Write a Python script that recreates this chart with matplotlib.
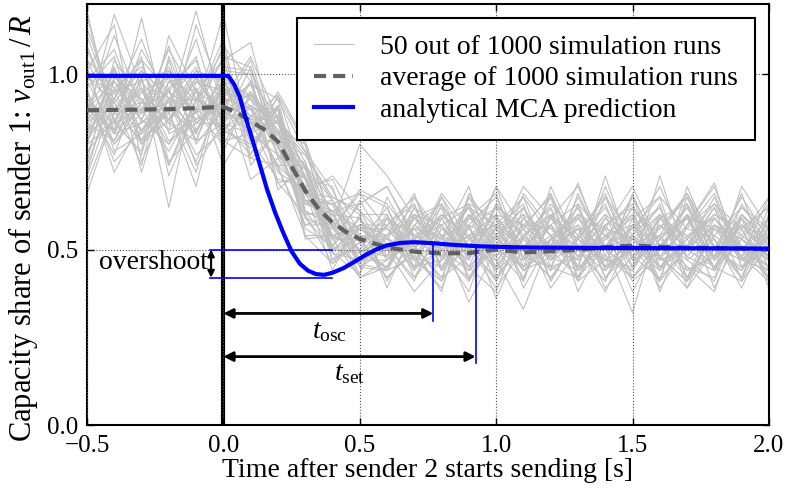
"""
Capacity share of sender 1 after sender 2 starts sending:
simulation runs, their average and the analytical MCA prediction.
"""

import matplotlib
matplotlib.use("Agg")
import matplotlib.pyplot as plt


# =========================================================
# Data
# =========================================================

RUN_TIME = [-0.5, -0.4, -0.3, -0.2, -0.1, 0.0, 0.1, 0.2, 0.3, 0.4, 0.5,
            0.6, 0.7, 0.8, 0.9, 1.0, 1.1, 1.2, 1.3, 1.4, 1.5, 1.6, 1.7,
            1.8, 1.9, 2.0]

# 50 sample runs, one row per run
RUNS = [
    [0.93, 0.83, 1.01, 0.87, 0.95, 0.90, 0.83, 0.77, 0.70, 0.54, 0.50, 0.45, 0.57, 0.50, 0.41, 0.53, 0.62, 0.48, 0.44, 0.54, 0.50, 0.60, 0.42, 0.51, 0.47, 0.56],
    [0.77, 0.98, 0.87, 1.08, 0.84, 0.96, 0.93, 0.84, 0.60, 0.61, 0.46, 0.54, 0.44, 0.63, 0.51, 0.39, 0.50, 0.59, 0.53, 0.45, 0.66, 0.48, 0.41, 0.57, 0.50, 0.45],
    [1.13, 0.92, 0.80, 0.90, 1.01, 0.87, 0.98, 0.69, 0.71, 0.50, 0.56, 0.50, 0.38, 0.47, 0.60, 0.54, 0.44, 0.51, 0.69, 0.48, 0.42, 0.53, 0.59, 0.47, 0.54, 0.65],
    [0.87, 1.17, 0.96, 0.74, 0.93, 1.07, 0.77, 0.91, 0.64, 0.58, 0.43, 0.59, 0.51, 0.42, 0.48, 0.68, 0.56, 0.39, 0.50, 0.60, 0.53, 0.45, 0.50, 0.62, 0.41, 0.51],
    [0.69, 0.89, 1.04, 0.95, 0.81, 0.86, 1.02, 0.81, 0.77, 0.65, 0.61, 0.48, 0.60, 0.54, 0.35, 0.50, 0.45, 0.57, 0.63, 0.44, 0.51, 0.41, 0.68, 0.50, 0.57, 0.48],
    [1.01, 0.80, 0.92, 0.84, 1.14, 0.93, 0.86, 0.74, 0.54, 0.46, 0.52, 0.42, 0.50, 0.66, 0.56, 0.47, 0.33, 0.53, 0.45, 0.71, 0.48, 0.54, 0.45, 0.38, 0.59, 0.50],
    [0.90, 1.02, 0.72, 0.98, 0.89, 0.80, 0.94, 0.87, 0.73, 0.56, 0.66, 0.62, 0.47, 0.41, 0.53, 0.57, 0.50, 0.65, 0.42, 0.51, 0.32, 0.59, 0.54, 0.48, 0.66, 0.44],
    [0.81, 0.93, 1.10, 0.89, 0.68, 0.99, 0.76, 0.83, 0.66, 0.63, 0.49, 0.53, 0.63, 0.45, 0.57, 0.36, 0.54, 0.47, 0.56, 0.50, 0.62, 0.39, 0.51, 0.65, 0.45, 0.54],
    [1.18, 0.86, 0.90, 1.01, 0.92, 1.04, 1.09, 0.79, 0.61, 0.51, 0.59, 0.41, 0.54, 0.59, 0.47, 0.63, 0.53, 0.44, 0.50, 0.57, 0.45, 0.71, 0.47, 0.53, 0.42, 0.60],
    [0.95, 0.75, 0.84, 0.93, 1.02, 0.83, 0.88, 0.94, 0.80, 0.49, 0.47, 0.57, 0.50, 0.38, 0.65, 0.51, 0.60, 0.54, 0.41, 0.47, 0.57, 0.50, 0.63, 0.44, 0.53, 0.48],
    [0.84, 0.99, 0.93, 0.80, 0.90, 1.17, 0.81, 0.70, 0.68, 0.70, 0.54, 0.51, 0.42, 0.56, 0.48, 0.59, 0.41, 0.68, 0.51, 0.38, 0.54, 0.62, 0.48, 0.57, 0.50, 0.42],
    [1.04, 0.87, 0.77, 1.05, 0.86, 0.92, 0.97, 0.80, 0.57, 0.57, 0.42, 0.47, 0.59, 0.51, 0.62, 0.44, 0.57, 0.50, 0.60, 0.54, 0.41, 0.48, 0.56, 0.66, 0.47, 0.53],
    [0.74, 0.95, 0.98, 0.87, 0.96, 0.74, 0.87, 0.88, 0.75, 0.53, 0.63, 0.68, 0.53, 0.48, 0.42, 0.54, 0.65, 0.45, 0.48, 0.59, 0.51, 0.44, 0.60, 0.39, 0.56, 0.62],
    [0.98, 1.07, 0.86, 0.92, 0.75, 0.95, 0.70, 0.76, 0.63, 0.64, 0.53, 0.44, 0.48, 0.60, 0.54, 0.50, 0.47, 0.62, 0.38, 0.53, 0.65, 0.51, 0.42, 0.59, 0.48, 0.41],
    [0.86, 0.81, 0.99, 0.62, 0.98, 0.89, 0.91, 0.86, 0.70, 0.47, 0.57, 0.54, 0.66, 0.44, 0.51, 0.60, 0.39, 0.53, 0.57, 0.45, 0.50, 0.56, 0.65, 0.47, 0.60, 0.51],
    [1.08, 0.90, 0.89, 0.99, 0.83, 1.01, 1.00, 0.67, 0.74, 0.60, 0.45, 0.50, 0.56, 0.53, 0.68, 0.42, 0.51, 0.48, 0.65, 0.50, 0.44, 0.60, 0.53, 0.45, 0.41, 0.57],
    [0.80, 1.01, 0.81, 0.90, 1.10, 0.84, 0.80, 0.90, 0.53, 0.54, 0.50, 0.60, 0.45, 0.50, 0.44, 0.56, 0.63, 0.41, 0.54, 0.66, 0.48, 0.42, 0.50, 0.57, 0.53, 0.47],
    [0.92, 0.84, 1.16, 0.83, 0.87, 0.96, 0.90, 0.72, 0.67, 0.44, 0.60, 0.39, 0.57, 0.63, 0.50, 0.47, 0.54, 0.60, 0.44, 0.51, 0.56, 0.65, 0.41, 0.50, 0.62, 0.54],
    [0.99, 0.92, 0.74, 1.04, 0.80, 0.90, 0.84, 0.93, 0.78, 0.67, 0.52, 0.56, 0.48, 0.39, 0.59, 0.66, 0.45, 0.51, 0.62, 0.42, 0.53, 0.47, 0.57, 0.69, 0.45, 0.50],
    [0.66, 0.89, 0.95, 0.86, 0.99, 0.87, 0.95, 0.80, 0.59, 0.56, 0.67, 0.63, 0.53, 0.57, 0.45, 0.38, 0.59, 0.50, 0.47, 0.56, 0.68, 0.51, 0.44, 0.48, 0.59, 0.39],
    [0.89, 1.11, 0.90, 0.78, 0.92, 1.10, 0.74, 0.84, 0.71, 0.50, 0.49, 0.45, 0.62, 0.47, 0.54, 0.57, 0.50, 0.42, 0.53, 0.63, 0.45, 0.54, 0.66, 0.53, 0.42, 0.59],
    [1.02, 0.78, 0.83, 0.96, 0.74, 0.86, 0.93, 0.77, 0.64, 0.61, 0.56, 0.51, 0.41, 0.59, 0.63, 0.48, 0.56, 0.66, 0.50, 0.41, 0.57, 0.45, 0.53, 0.60, 0.54, 0.48],
    [0.83, 0.96, 1.02, 0.92, 0.84, 0.93, 1.05, 0.87, 0.56, 0.51, 0.46, 0.59, 0.54, 0.50, 0.38, 0.60, 0.48, 0.54, 0.59, 0.47, 0.51, 0.63, 0.39, 0.50, 0.65, 0.53],
    [0.93, 0.86, 0.78, 1.11, 0.95, 0.81, 0.83, 0.95, 0.81, 0.58, 0.54, 0.48, 0.65, 0.54, 0.57, 0.41, 0.62, 0.47, 0.51, 0.60, 0.42, 0.50, 0.59, 0.56, 0.47, 0.44],
    [0.75, 1.04, 0.92, 0.87, 1.01, 0.98, 0.88, 0.74, 0.66, 0.71, 0.61, 0.53, 0.45, 0.65, 0.48, 0.54, 0.42, 0.59, 0.68, 0.50, 0.54, 0.41, 0.51, 0.62, 0.50, 0.57],
    [1.17, 0.83, 0.86, 0.95, 0.89, 0.92, 0.94, 0.83, 0.74, 0.49, 0.43, 0.65, 0.51, 0.42, 0.60, 0.50, 0.53, 0.45, 0.42, 0.57, 0.62, 0.53, 0.47, 0.41, 0.60, 0.51],
    [0.86, 0.93, 1.05, 0.71, 0.90, 0.84, 0.79, 0.91, 0.61, 0.57, 0.80, 0.71, 0.59, 0.53, 0.47, 0.62, 0.57, 0.50, 0.56, 0.39, 0.48, 0.59, 0.63, 0.51, 0.44, 0.54],
    [0.96, 0.72, 0.87, 1.01, 0.81, 1.02, 1.01, 0.79, 0.68, 0.53, 0.53, 0.42, 0.50, 0.60, 0.53, 0.45, 0.66, 0.56, 0.48, 0.53, 0.59, 0.38, 0.57, 0.63, 0.51, 0.47],
    [0.90, 0.98, 0.84, 0.90, 1.18, 0.89, 0.86, 0.86, 0.77, 0.64, 0.49, 0.54, 0.60, 0.48, 0.65, 0.56, 0.44, 0.53, 0.62, 0.45, 0.50, 0.57, 0.48, 0.44, 0.68, 0.56],
    [0.78, 0.87, 0.96, 0.81, 0.86, 0.95, 0.91, 0.73, 0.57, 0.60, 0.59, 0.50, 0.56, 0.44, 0.57, 0.53, 0.60, 0.41, 0.54, 0.65, 0.47, 0.51, 0.60, 0.54, 0.48, 0.65],
    [1.01, 1.14, 0.75, 0.93, 0.96, 0.83, 0.98, 0.88, 0.73, 0.47, 0.52, 0.62, 0.44, 0.54, 0.50, 0.68, 0.47, 0.57, 0.45, 0.51, 0.60, 0.48, 0.39, 0.57, 0.53, 0.45],
    [0.84, 0.92, 1.01, 0.89, 0.72, 0.99, 0.81, 0.81, 0.63, 0.63, 0.47, 0.47, 0.53, 0.62, 0.42, 0.51, 0.57, 0.65, 0.50, 0.44, 0.54, 0.68, 0.50, 0.45, 0.57, 0.50],
    [0.95, 0.80, 0.89, 1.07, 0.93, 0.87, 0.90, 0.90, 0.54, 0.54, 0.57, 0.57, 0.65, 0.50, 0.54, 0.44, 0.51, 0.48, 0.60, 0.56, 0.38, 0.53, 0.62, 0.51, 0.42, 0.60],
    [0.72, 0.99, 0.93, 0.84, 0.89, 1.05, 1.02, 0.76, 0.75, 0.51, 0.64, 0.51, 0.47, 0.57, 0.62, 0.50, 0.41, 0.60, 0.53, 0.48, 0.65, 0.45, 0.54, 0.59, 0.50, 0.44],
    [1.07, 0.89, 0.81, 0.98, 0.99, 0.86, 0.77, 0.94, 0.70, 0.68, 0.45, 0.44, 0.57, 0.53, 0.45, 0.63, 0.54, 0.44, 0.66, 0.50, 0.56, 0.62, 0.44, 0.48, 0.60, 0.53],
    [0.87, 0.95, 1.04, 0.75, 0.84, 0.96, 0.87, 0.69, 0.60, 0.46, 0.56, 0.56, 0.51, 0.41, 0.66, 0.54, 0.62, 0.50, 0.42, 0.59, 0.51, 0.48, 0.57, 0.68, 0.47, 0.50],
    [0.98, 0.84, 0.90, 0.95, 1.05, 0.78, 0.95, 0.84, 0.80, 0.58, 0.50, 0.48, 0.62, 0.56, 0.50, 0.42, 0.53, 0.63, 0.54, 0.47, 0.44, 0.57, 0.51, 0.60, 0.56, 0.42],
    [0.81, 1.02, 0.83, 0.90, 0.83, 1.01, 0.84, 0.91, 0.66, 0.65, 0.60, 0.60, 0.42, 0.51, 0.59, 0.53, 0.48, 0.45, 0.63, 0.54, 0.60, 0.41, 0.65, 0.50, 0.44, 0.62],
    [0.92, 0.77, 0.98, 1.01, 0.90, 0.90, 1.04, 0.80, 0.59, 0.50, 0.53, 0.54, 0.59, 0.63, 0.41, 0.57, 0.65, 0.54, 0.47, 0.68, 0.50, 0.54, 0.45, 0.42, 0.63, 0.51],
    [1.04, 0.96, 0.87, 0.80, 0.95, 1.04, 0.80, 0.87, 0.78, 0.56, 0.47, 0.50, 0.48, 0.45, 0.56, 0.62, 0.51, 0.57, 0.50, 0.41, 0.59, 0.65, 0.56, 0.53, 0.39, 0.57],
    [0.80, 0.86, 1.07, 0.93, 0.77, 0.84, 0.91, 0.79, 0.67, 0.61, 0.63, 0.68, 0.54, 0.50, 0.60, 0.45, 0.56, 0.47, 0.59, 0.51, 0.42, 0.50, 0.60, 0.47, 0.57, 0.48],
    [0.96, 1.05, 0.80, 0.87, 0.98, 0.95, 0.88, 0.86, 0.71, 0.53, 0.42, 0.45, 0.60, 0.57, 0.48, 0.56, 0.45, 0.66, 0.41, 0.57, 0.63, 0.47, 0.50, 0.59, 0.51, 0.45],
    [0.89, 0.81, 0.95, 0.99, 0.87, 0.92, 0.97, 0.93, 0.61, 0.57, 0.54, 0.53, 0.50, 0.65, 0.53, 0.48, 0.59, 0.51, 0.56, 0.45, 0.53, 0.60, 0.42, 0.54, 0.62, 0.56],
    [0.71, 0.93, 0.84, 0.96, 1.04, 0.81, 0.76, 0.74, 0.74, 0.64, 0.52, 0.59, 0.45, 0.47, 0.63, 0.59, 0.50, 0.42, 0.53, 0.62, 0.47, 0.56, 0.66, 0.50, 0.45, 0.50],
    [1.11, 0.90, 0.96, 0.86, 0.81, 0.99, 0.93, 0.83, 0.68, 0.49, 0.59, 0.47, 0.56, 0.54, 0.44, 0.51, 0.68, 0.59, 0.48, 0.54, 0.57, 0.44, 0.53, 0.63, 0.56, 0.41],
    [0.86, 1.01, 0.89, 0.92, 0.93, 0.89, 0.86, 0.90, 0.63, 0.60, 0.49, 0.57, 0.63, 0.44, 0.57, 0.65, 0.47, 0.53, 0.60, 0.42, 0.50, 0.54, 0.59, 0.45, 0.53, 0.63],
    [0.93, 0.83, 0.99, 0.74, 0.90, 1.08, 0.98, 0.77, 0.73, 0.54, 0.56, 0.51, 0.53, 0.60, 0.51, 0.41, 0.54, 0.62, 0.45, 0.65, 0.54, 0.48, 0.41, 0.56, 0.50, 0.59],
    [0.83, 0.89, 0.92, 1.02, 0.86, 0.86, 0.83, 0.88, 0.64, 0.63, 0.66, 0.56, 0.47, 0.53, 0.62, 0.57, 0.44, 0.48, 0.57, 0.50, 0.62, 0.51, 0.60, 0.44, 0.59, 0.47],
    [0.99, 0.95, 0.81, 0.89, 0.99, 0.93, 0.90, 0.81, 0.70, 0.57, 0.46, 0.44, 0.59, 0.48, 0.54, 0.60, 0.57, 0.56, 0.51, 0.47, 0.45, 0.59, 0.50, 0.57, 0.48, 0.54],
    [0.90, 0.84, 1.01, 0.93, 0.89, 0.98, 0.94, 0.86, 0.66, 0.53, 0.57, 0.50, 0.51, 0.59, 0.45, 0.54, 0.50, 0.60, 0.44, 0.56, 0.53, 0.50, 0.62, 0.48, 0.57, 0.53],
]

AVG_TIME = [-0.5, -0.4, -0.3, -0.2, -0.1, 0.0, 0.05, 0.1, 0.15, 0.2, 0.25,
            0.3, 0.35, 0.4, 0.45, 0.5, 0.6, 0.7, 0.8, 0.9, 1.0, 1.1, 1.2,
            1.3, 1.4, 1.5, 1.6, 1.7, 1.8, 1.9, 2.0]

AVG_SHARE = [0.897, 0.898, 0.899, 0.900, 0.903, 0.907, 0.890, 0.866, 0.842,
             0.808, 0.737, 0.668, 0.615, 0.577, 0.550, 0.530, 0.506, 0.494,
             0.489, 0.490, 0.500, 0.492, 0.495, 0.499, 0.507, 0.511, 0.508,
             0.505, 0.505, 0.503, 0.500]

MCA_TIME = [-0.5, 0.0, 0.018, 0.04, 0.06, 0.08, 0.1, 0.13, 0.16, 0.19, 0.22,
            0.25, 0.28, 0.31, 0.34, 0.37, 0.40, 0.44, 0.48, 0.52, 0.56, 0.60,
            0.65, 0.70, 0.77, 0.85, 0.95, 1.1, 1.3, 1.6, 2.0]

MCA_SHARE = [0.995, 0.995, 0.995, 0.970, 0.935, 0.880, 0.830, 0.752, 0.672,
             0.605, 0.547, 0.495, 0.460, 0.440, 0.430, 0.428, 0.434, 0.447,
             0.465, 0.484, 0.500, 0.512, 0.519, 0.521, 0.518, 0.513, 0.509,
             0.506, 0.505, 0.504, 0.503]

# annotation values
SETTLED = 0.50
MINIMUM = 0.42
T_OSC = 0.77
T_SET = 0.925

LABELS = [
    "50 out of 1000 simulation runs",
    "average of 1000 simulation runs",
    "analytical MCA prediction",
]

FONT = 20
TICK_FONT = 18
YLABEL_FONT = 22


# =========================================================
# Plot
# =========================================================

def plot_share():

    plt.rcParams["font.family"] = ["Liberation Serif", "DejaVu Serif"]
    plt.rcParams["mathtext.fontset"] = "custom"
    plt.rcParams["mathtext.rm"] = "Liberation Serif"
    plt.rcParams["mathtext.it"] = "Liberation Serif:italic"

    fig, ax = plt.subplots(figsize=(7.87, 4.88), dpi=100)
    fig.subplots_adjust(left=0.1105, right=0.977, bottom=0.129, top=0.992)

    for i, run in enumerate(RUNS):
        ax.plot(RUN_TIME, run, color="#c0c0c0", linewidth=0.8,
                label=LABELS[0] if i == 0 else None, zorder=1)

    ax.plot(AVG_TIME, AVG_SHARE, color="#606060", linewidth=3,
            dashes=(2.9, 1.7), label=LABELS[1], zorder=3)

    ax.plot(MCA_TIME, MCA_SHARE, color="#0000ff", linewidth=3,
            label=LABELS[2], zorder=4)

    ax.axvline(0.0, color="black", linewidth=3, zorder=2)

    # overshoot marks
    ax.plot([-0.05, 0.40], [SETTLED, SETTLED], color="#0000ff", linewidth=1.2, zorder=4)
    ax.plot([-0.05, 0.40], [MINIMUM, MINIMUM], color="#0000ff", linewidth=1.2, zorder=4)
    ax.annotate("", xy=(-0.045, MINIMUM), xytext=(-0.045, SETTLED),
                arrowprops=dict(arrowstyle="<|-|>", color="black", lw=1.5,
                                mutation_scale=10, shrinkA=0, shrinkB=0),
                zorder=5)
    ax.text(-0.055, 0.462, "overshoot", ha="right", va="center", fontsize=FONT)

    # oscillation and settling times
    ax.plot([T_OSC, T_OSC], [0.297, 0.518], color="#0000ff", linewidth=1.2, zorder=4)
    ax.plot([T_SET, T_SET], [0.177, 0.510], color="#0000ff", linewidth=1.2, zorder=4)
    ax.annotate("", xy=(T_OSC, 0.318), xytext=(0.0, 0.318),
                arrowprops=dict(arrowstyle="<|-|>", color="black", lw=2,
                                mutation_scale=14, shrinkA=0, shrinkB=0),
                zorder=5)
    ax.annotate("", xy=(T_SET, 0.195), xytext=(0.0, 0.195),
                arrowprops=dict(arrowstyle="<|-|>", color="black", lw=2,
                                mutation_scale=14, shrinkA=0, shrinkB=0),
                zorder=5)
    ax.text(0.39, 0.265, r"$t_{\mathrm{osc}}$", ha="center", va="center", fontsize=FONT)
    ax.text(0.463, 0.148, r"$t_{\mathrm{set}}$", ha="center", va="center", fontsize=FONT)

    ax.set_xlim(-0.5, 2.0)
    ax.set_ylim(0.0, 1.2)
    ax.set_xticks([-0.5, 0.0, 0.5, 1.0, 1.5, 2.0])
    ax.set_yticks([0.0, 0.5, 1.0])
    ax.set_xticklabels(["\u22120.5", "0.0", "0.5", "1.0", "1.5", "2.0"])

    ax.tick_params(direction="in", top=True, right=True, length=5,
                   width=1, labelsize=TICK_FONT)
    ax.tick_params(axis="x", pad=7)
    ax.tick_params(axis="y", pad=6)
    for spine in ax.spines.values():
        spine.set_linewidth(1.5)

    ax.set_axisbelow(False)
    ax.grid(True, linestyle=":", color="#555555", linewidth=0.8)

    ax.set_xlabel("Time after sender 2 starts sending [s]", fontsize=FONT, labelpad=1)
    ax.set_ylabel(r"Capacity share of sender 1: $v_{\mathrm{out1}}\,/\,R$",
                  fontsize=YLABEL_FONT)
    ax.yaxis.set_label_coords(-0.069, 0.468)

    leg = ax.legend(loc="upper right", fontsize=FONT, fancybox=False,
                    framealpha=1, handlelength=1.4, handletextpad=1.0,
                    labelspacing=0.22, borderpad=0.6, borderaxespad=0.5)
    leg.get_frame().set_edgecolor("black")
    leg.get_frame().set_linewidth(1.5)
    leg.set_zorder(10)

    fig.savefig("out.png", dpi=100)
    plt.close(fig)


def main():

    plot_share()


if __name__ == "__main__":

    main()
